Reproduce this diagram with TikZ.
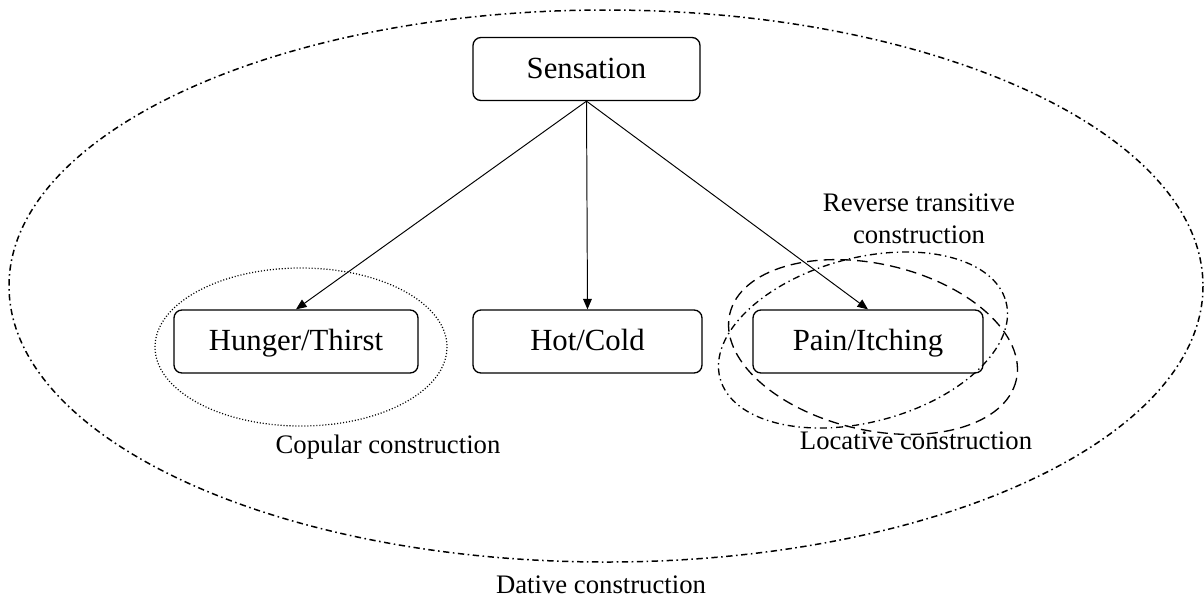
\documentclass[tikz,border=0pt]{standalone}
\usepackage{fontspec}
\setmainfont{Liberation Serif}
\usetikzlibrary{arrows.meta}
\begin{document}
\begin{tikzpicture}[x=0.02cm,y=-0.02cm,
  catbox/.style={draw, line width=0.75pt, rounded corners=4.5pt, inner sep=0pt,
    minimum height=1.26cm, text height=12pt, text depth=1.2pt,
    font=\fontsize{17.5}{20}\selectfont},
  caption/.style={inner sep=0pt, align=center, font=\fontsize{15.2}{18.2}\selectfont},
  link/.style={line width=0.55pt, -{Triangle[length=6pt,width=5pt]}},
  dashdot/.style={line width=0.85pt, dash pattern=on 3.6pt off 2pt on 0.9pt off 2pt},
  dashdotdot/.style={line width=0.75pt, dash pattern=on 4pt off 2.2pt on 0.8pt off 2.2pt},
  longdash/.style={line width=0.75pt, dash pattern=on 6pt off 3.5pt},
  dotline/.style={line width=0.7pt, dash pattern=on 0.6pt off 1.1pt}]
\useasboundingbox (0,0) rectangle (1204,600);

% outer region: dative construction
\draw[dashdot] (606,286) ellipse [x radius=597, y radius=276];

% category boxes
\node[catbox, minimum width=4.54cm] (sens) at (586.5,69) {Sensation};
\node[catbox, minimum width=4.88cm] (hung) at (296,341.5) {Hunger/Thirst};
\node[catbox, minimum width=4.58cm] (hot)  at (587.5,341.5) {Hot/Cold};
\node[catbox, minimum width=4.60cm] (pain) at (868,341.5) {Pain/Itching};

% hierarchy arrows
\draw[link] (sens.south) -- (hung.north);
\draw[link] (sens.south) -- (hot.north);
\draw[link] (sens.south) -- (pain.north);

% construction regions
\draw[dotline] (301,347) ellipse [x radius=146, y radius=79];
\draw[dashdotdot, rotate around={15:(863,340)}] (863,340) ellipse [x radius=148, y radius=82];
\draw[longdash, rotate around={-13:(873,347)}] (873,347) ellipse [x radius=147, y radius=83];

% labels
\node[caption] (rev) at (919,219) {Reverse transitive\\construction};
\node[caption] (loc) at (916,441) {Locative construction};
\node[caption] (cop) at (388,447) {Copular construction};
\node[caption] (dat) at (601,585) {Dative construction};
\end{tikzpicture}
\end{document}
